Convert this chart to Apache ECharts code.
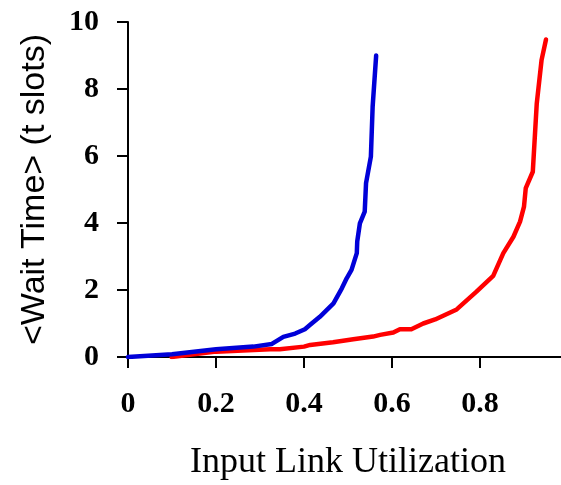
<!DOCTYPE html>
<html>
<head>
<meta charset="utf-8">
<script src="https://cdn.jsdelivr.net/npm/echarts@6/dist/echarts.min.js"></script>
<style>
  html, body { margin: 0; padding: 0; background: #fff; }
  #main { width: 561px; height: 485px; }
</style>
</head>
<body>
<div id="main"></div>
<script>
// utilization on x, wait time on y
var blueX = [0, 0.1, 0.2, 0.285, 0.327, 0.353, 0.38, 0.402, 0.414, 0.436, 0.467, 0.486, 0.497, 0.508, 0.52, 0.521, 0.527, 0.538, 0.541, 0.552, 0.556, 0.564]
var blueY = [0, 0.08, 0.23, 0.31, 0.39, 0.6, 0.7, 0.83, 0.96, 1.2, 1.6, 2.05, 2.35, 2.6, 3.1, 3.45, 3.99, 4.34, 5.19, 5.98, 7.47, 9.0]
var redX = [0.099, 0.2, 0.323, 0.345, 0.4, 0.414, 0.466, 0.512, 0.557, 0.573, 0.603, 0.618, 0.644, 0.671, 0.698, 0.747, 0.792, 0.83, 0.853, 0.876, 0.891, 0.9, 0.904, 0.92, 0.929, 0.94, 0.95]
var redY = [0, 0.16, 0.23, 0.23, 0.31, 0.36, 0.44, 0.53, 0.61, 0.66, 0.73, 0.83, 0.83, 1.0, 1.12, 1.42, 1.95, 2.42, 3.1, 3.59, 4.04, 4.49, 5.04, 5.53, 7.57, 8.87, 9.48]

var xTitle = 'Input Link Utilization'
var yTitle = '<Wait Time> (t slots)'

function zip(xs, ys) {
    var out = []
    for (var i = 0; i < xs.length; i++) {
        out.push([xs[i], ys[i]])
    }
    return out
}

var labelFont = {
    fontFamily: 'Liberation Serif',
    fontWeight: 'bold',
    fontSize: 30,
    color: '#000'
}

var myChart = echarts.init(document.getElementById('main'))
var option = {
    animation: false,
    grid: { left: 128, top: 22, right: -7, bottom: 128, outerBoundsMode: 'none', containLabel: false },
    xAxis: [
        {
            type: 'value',
            min: 0, max: 1, interval: 0.2,
            name: xTitle,
            nameLocation: 'middle',
            nameGap: 88,
            nameTextStyle: { fontFamily: 'Liberation Serif', fontSize: 36, color: '#000' },
            axisLine: { show: true, onZero: false, lineStyle: { color: '#000', width: 2 } },
            axisTick: { show: true, length: 11, lineStyle: { color: '#000', width: 2 } },
            axisLabel: Object.assign({ margin: 32 }, labelFont),
            splitLine: { show: false }
        },
        {
            // top frame line
            type: 'value',
            position: 'top',
            min: 0, max: 1,
            axisLine: { show: true, lineStyle: { color: '#000', width: 2 } },
            axisTick: { show: false },
            axisLabel: { show: false },
            splitLine: { show: false }
        }
    ],
    yAxis: {
        type: 'value',
        min: 0, max: 10, interval: 2,
        name: yTitle,
        nameLocation: 'middle',
        nameGap: 76,
        nameTextStyle: { fontFamily: 'Liberation Sans', fontSize: 34, color: '#000' },
        axisLine: { show: true, onZero: false, lineStyle: { color: '#000', width: 2 } },
        axisTick: { show: true, length: 11, lineStyle: { color: '#000', width: 2 } },
        axisLabel: Object.assign({ margin: 29 }, labelFont),
        splitLine: { show: false }
    },
    series: [
        {
            type: 'line',
            data: zip(redX, redY),
            showSymbol: false,
            lineStyle: { color: '#ff0000', width: 4.5, cap: 'round', join: 'round' },
            z: 2
        },
        {
            type: 'line',
            data: zip(blueX, blueY),
            showSymbol: false,
            lineStyle: { color: '#0000d8', width: 4.5, cap: 'round', join: 'round' },
            z: 3
        }
    ]
}
myChart.setOption(option)
</script>
</body>
</html>
